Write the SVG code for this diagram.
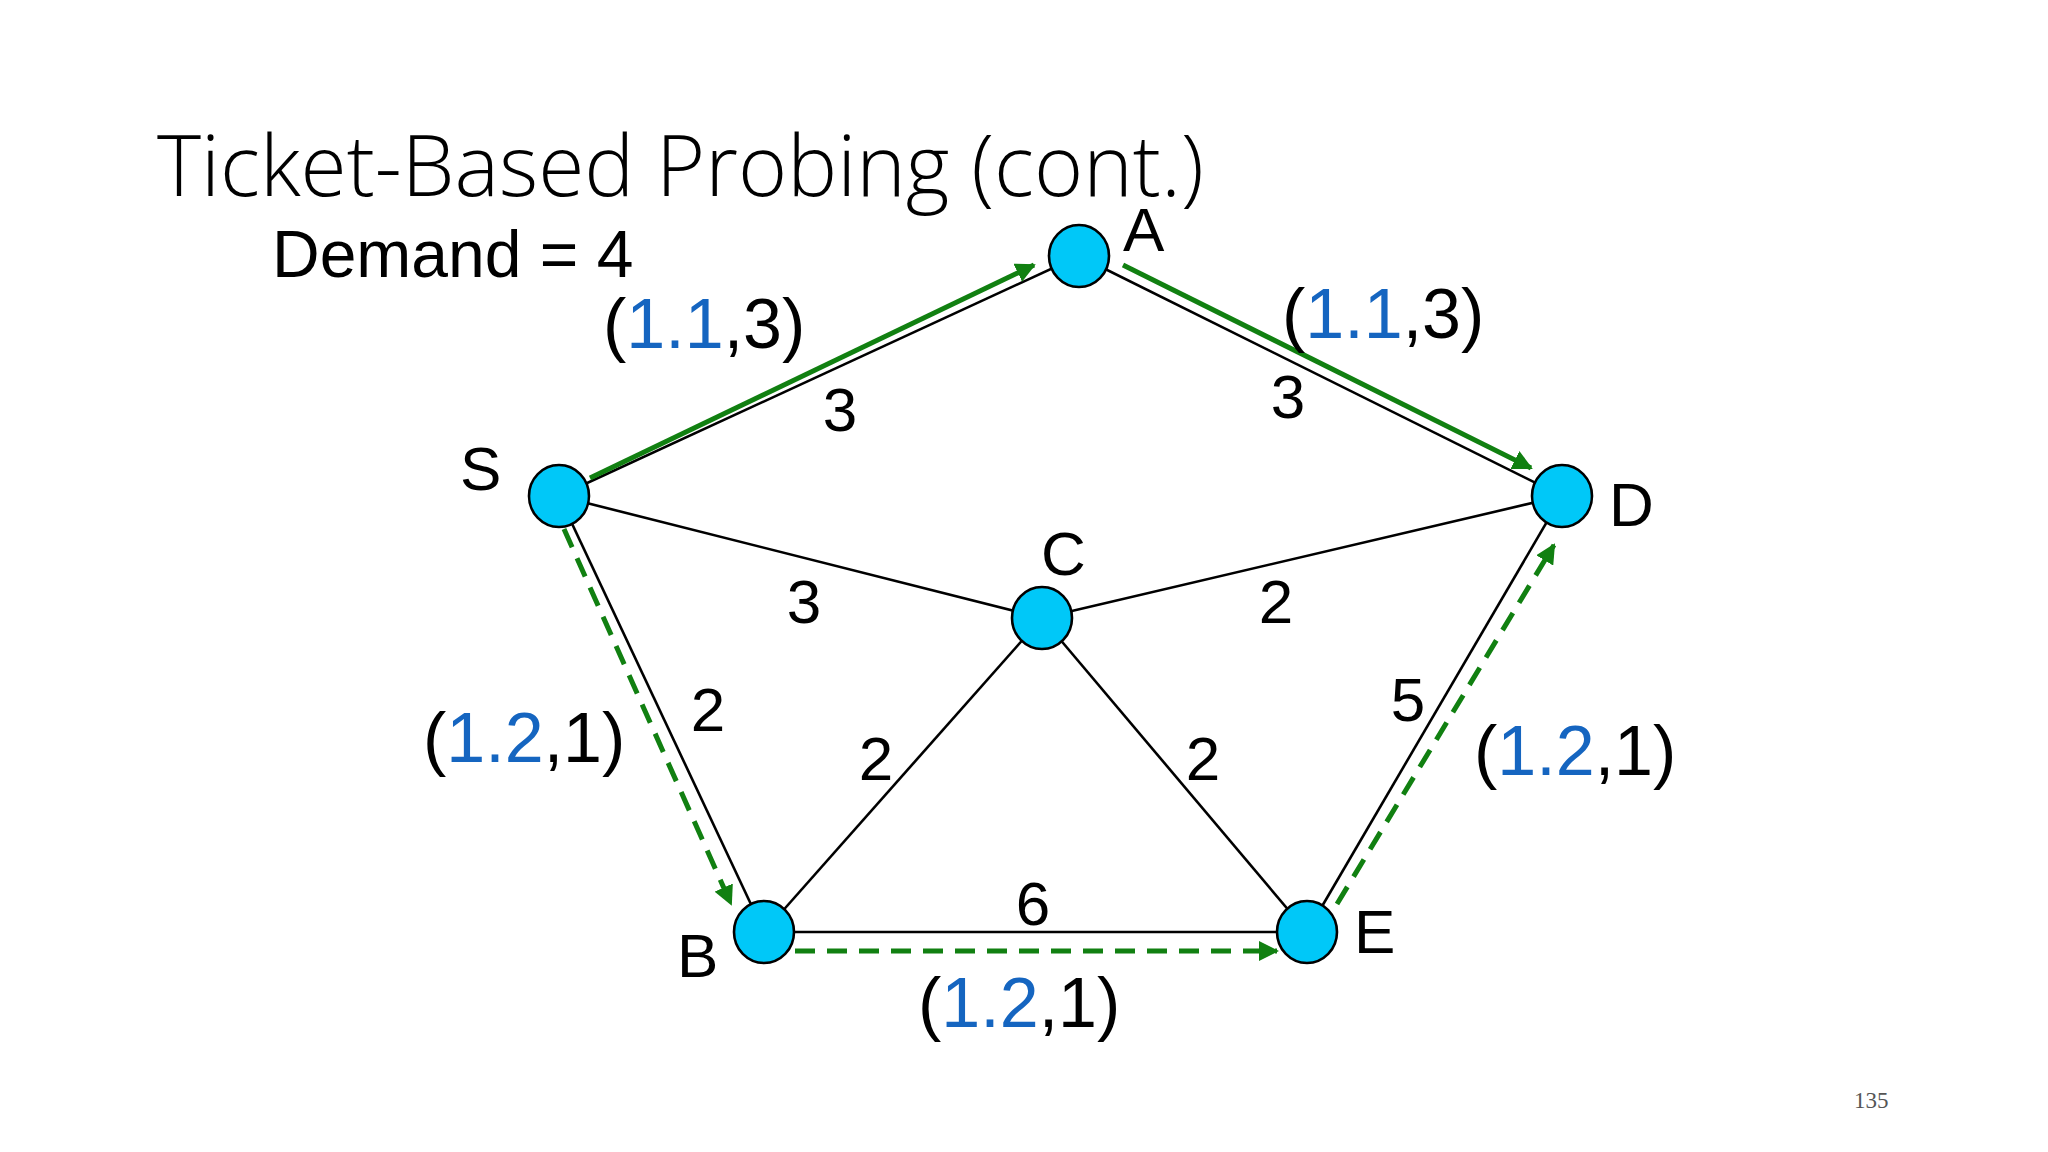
<svg xmlns="http://www.w3.org/2000/svg" width="2048" height="1152" viewBox="0 0 2048 1152">
<style>
.e{stroke:#000;stroke-width:2.6;fill:none}
.g{stroke:#118011;stroke-width:5;fill:none;marker-end:url(#ah)}
.d{stroke-dasharray:20 12}
.n{fill:#00c8f8;stroke:#000;stroke-width:2.6}
text{font-family:"Liberation Sans",Arial,sans-serif;fill:#000}
.l{font-size:62px}
.w{font-size:62px;text-anchor:middle}
.t{font-size:70px}
.b{fill:#1565c0}
</style>
<defs><marker id="ah" viewBox="0 0 10 10" refX="9" refY="5" markerWidth="4" markerHeight="4" orient="auto" markerUnits="strokeWidth"><path d="M0,0L10,5L0,10z" fill="#118011"/></marker></defs>
<rect width="2048" height="1152" fill="#fff"/>
<text x="157" y="196" style="font-family:'Open Sans',sans-serif;font-weight:300;font-size:84px">Ticket-Based Probing (cont.)</text>
<text x="272" y="277" style="font-size:66px">Demand = 4</text>
<g id="edges">
<line class="e" x1="559" y1="496" x2="1079" y2="256"/>
<line class="e" x1="1079" y1="256" x2="1562" y2="496"/>
<line class="e" x1="559" y1="496" x2="1042" y2="618"/>
<line class="e" x1="1042" y1="618" x2="1562" y2="496"/>
<line class="e" x1="559" y1="496" x2="764" y2="932"/>
<line class="e" x1="764" y1="932" x2="1042" y2="618"/>
<line class="e" x1="1042" y1="618" x2="1307" y2="932"/>
<line class="e" x1="764" y1="932" x2="1307" y2="932"/>
<line class="e" x1="1307" y1="932" x2="1562" y2="496"/>
<line class="g" x1="590" y1="478" x2="1034" y2="265"/>
<line class="g" x1="1123" y1="265" x2="1531" y2="468"/>
<line class="g d" x1="564" y1="529" x2="731" y2="904"/>
<line class="g d" x1="795" y1="951" x2="1277" y2="951"/>
<line class="g d" x1="1337" y1="904" x2="1554" y2="545"/>
</g>
<g id="S"><ellipse class="n" cx="559" cy="496" rx="30" ry="31"/><text class="l" x="460" y="490">S</text></g>
<g id="A"><ellipse class="n" cx="1079" cy="256" rx="30" ry="31"/><text class="l" x="1123" y="251">A</text></g>
<g id="D"><ellipse class="n" cx="1562" cy="496" rx="30" ry="31"/><text class="l" x="1609" y="526">D</text></g>
<g id="C"><ellipse class="n" cx="1042" cy="618" rx="30" ry="31"/><text class="l" x="1041" y="575">C</text></g>
<g id="B"><ellipse class="n" cx="764" cy="932" rx="30" ry="31"/><text class="l" x="677" y="977">B</text></g>
<g id="E"><ellipse class="n" cx="1307" cy="932" rx="30" ry="31"/><text class="l" x="1354" y="953">E</text></g>
<g id="labels">
<text class="w" x="840" y="431">3</text>
<text class="w" x="1288" y="418">3</text>
<text class="w" x="804" y="623">3</text>
<text class="w" x="1276" y="623">2</text>
<text class="w" x="708" y="731">2</text>
<text class="w" x="876" y="780">2</text>
<text class="w" x="1203" y="780">2</text>
<text class="w" x="1408" y="721">5</text>
<text class="w" x="1033" y="925">6</text>
<text class="t" x="603" y="348">(<tspan class="b">1.1</tspan>,3)</text>
<text class="t" x="1282" y="338">(<tspan class="b">1.1</tspan>,3)</text>
<text class="t" x="423" y="762">(<tspan class="b">1.2</tspan>,1)</text>
<text class="t" x="1474" y="775">(<tspan class="b">1.2</tspan>,1)</text>
<text class="t" x="918" y="1027">(<tspan class="b">1.2</tspan>,1)</text>
</g>
<text x="1854" y="1108" style="font-family:'Liberation Serif',serif;font-size:23px;fill:#555">135</text>
</svg>
